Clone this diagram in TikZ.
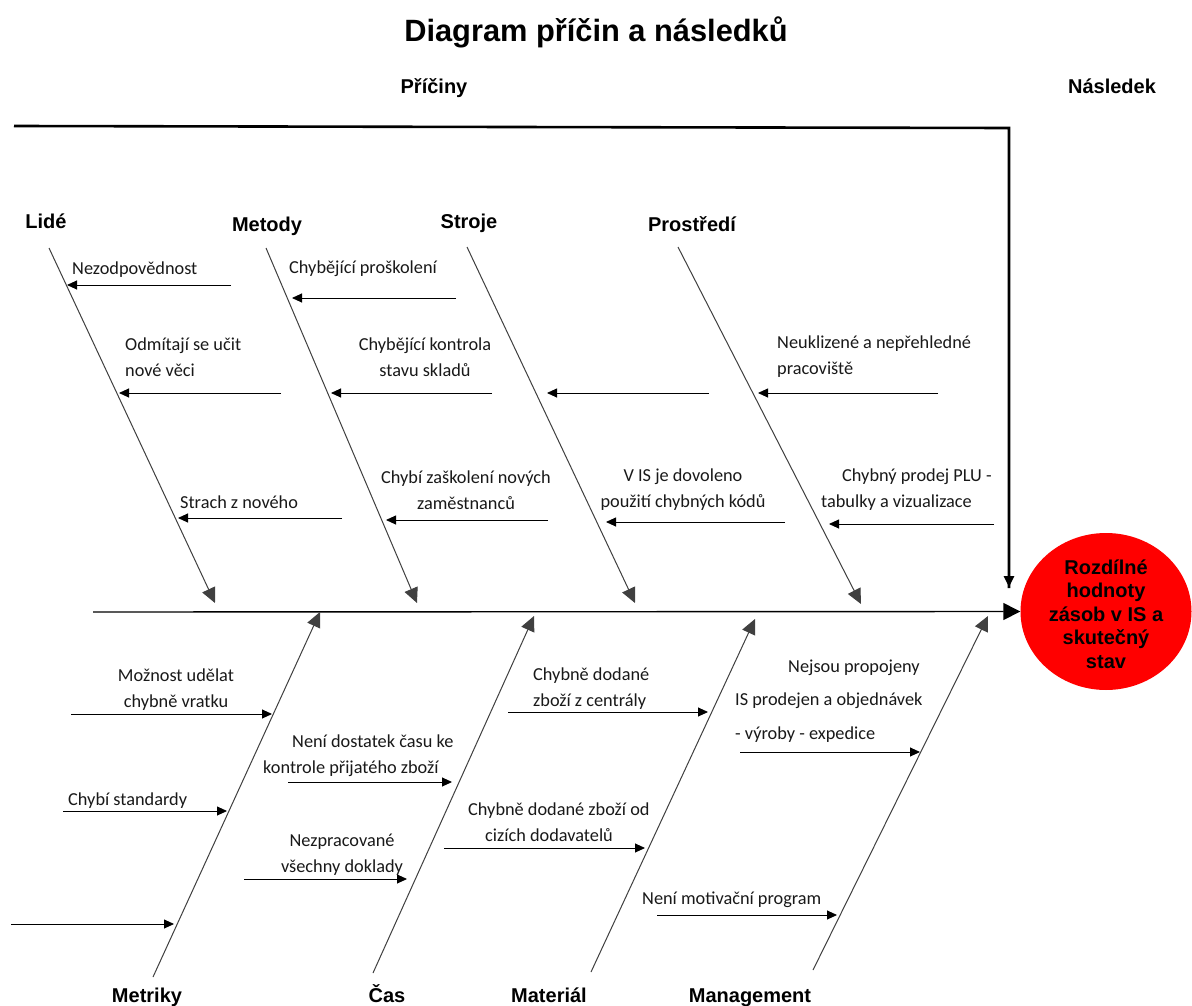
\documentclass[tikz,border=0pt]{standalone}
\usepackage{fontspec}
\setmainfont{Carlito}
\newfontfamily\headfont{Liberation Sans}
\usetikzlibrary{arrows.meta,shapes.geometric}

\tikzset{
  ribline/.style={draw=black!75, line width=1pt, -{Triangle[length=15pt,width=14pt]}},
  causearrow/.style={draw=black, line width=0.9pt, -{Triangle[length=10pt,width=9pt]}},
  lbl/.style={font=\fontsize{18.3}{26}\selectfont, inner sep=0pt, text=black!90},
  headlbl/.style={font=\headfont\bfseries\fontsize{20}{24}\selectfont, inner sep=0pt, anchor=base},
}

\begin{document}
\begin{tikzpicture}[x=1pt,y=-1pt]
\useasboundingbox (0,0) rectangle (1192,1006);
\fill[white] (0,0) rectangle (1192,1006);

% ---- titles ----
\node[font=\headfont\bfseries\fontsize{30.8}{34}\selectfont, inner sep=0pt, anchor=base] (title) at (596,42) {Diagram příčin a následků};
\node[headlbl] (causes) at (434,94) {Příčiny};
\node[headlbl] (result) at (1112,94) {Následek};

% ---- effect ----
\node[ellipse, fill=red, minimum width=171pt, minimum height=157pt, inner sep=0pt] (effect) at (1106,611.5) {};
\node[font=\headfont\bfseries\fontsize{20}{23.5}\selectfont, align=center, inner sep=0pt] (effecttext) at (1106,614) {Rozdílné\\hodnoty\\zásob v IS a\\skutečný\\stav};

% ---- frame line from the causes to the effect ----
\coordinate (frameA) at (14,126);
\coordinate (frameB) at (1009,128);
\coordinate (frameC) at (1009,587);
\draw[line width=2.6pt] (frameA) -- (frameB) -- ([yshift=-1pt]frameB |- frameC);
\draw[line width=2.6pt, -{Triangle[length=11pt,width=10pt]}] (frameB) -- (frameC);

% ---- spine ----
\coordinate (spineStart) at (93,612);
\draw[line width=1.4pt, -{Triangle[length=17pt,width=17pt]}] (spineStart) -- (effect.west);

% ---- category headings ----
\node[headlbl] (lide) at (46,229) {Lidé};
\node[headlbl] (metody) at (267,231) {Metody};
\node[headlbl] (stroje) at (469,229) {Stroje};
\node[headlbl] (prostredi) at (692,231) {Prostředí};
\node[headlbl] (metriky) at (147,1002) {Metriky};
\node[headlbl] (cas) at (387,1002) {Čas};
\node[headlbl] (material) at (549,1002) {Materiál};
\node[headlbl] (management) at (750,1002) {Management};

% ---- ribs ----
\coordinate (lideS) at (49,248);   \coordinate (lideE) at (215,603);
\coordinate (metS) at (266,248);   \coordinate (metE) at (417,603);
\coordinate (strS) at (467,247);   \coordinate (strE) at (635,603);
\coordinate (proS) at (678,247);   \coordinate (proE) at (861,604);
\coordinate (mtrS) at (153,977);   \coordinate (mtrE) at (320,612);
\coordinate (casS) at (373,973);   \coordinate (casE) at (534,616);
\coordinate (matS) at (591,972);   \coordinate (matE) at (755,619);
\coordinate (mgmS) at (813,970);   \coordinate (mgmE) at (988,616);
\foreach \s/\e in {lideS/lideE, metS/metE, strS/strE, proS/proE, mtrS/mtrE, casS/casE, matS/matE, mgmS/mgmE}
  \draw[ribline] (\s) -- (\e);

% ---- causes: Lidé ----
\node[lbl, anchor=west] (lA) at (72,270) {Nezodpovědnost};
\node[lbl, anchor=west, align=left] (lB) at (125,357) {Odmítají se učit\\nové věci};
\node[lbl, anchor=west] (lC) at (180,502) {Strach z nového};
\coordinate (lA1) at (231,285); \coordinate (lA2) at (67,285);
\coordinate (lB1) at (281,393); \coordinate (lB2) at (119,393);
\coordinate (lC1) at (342,518); \coordinate (lC2) at (178,518);

% ---- causes: Metody ----
\node[lbl, anchor=west] (mA) at (289,269) {Chybějící proškolení};
\node[lbl, align=center] (mB) at (425,357) {Chybějící kontrola\\stavu skladů};
\node[lbl, align=center] (mC) at (466,490) {Chybí zaškolení nových\\zaměstnanců};
\coordinate (mA1) at (456,298); \coordinate (mA2) at (292,298);
\coordinate (mB1) at (492,393); \coordinate (mB2) at (331,393);
\coordinate (mC1) at (548,520); \coordinate (mC2) at (386,520);

% ---- causes: Stroje ----
\node[lbl, align=center] (sB) at (683,490) {V IS je dovoleno\\použití chybných kódů};
\coordinate (sA1) at (709,393); \coordinate (sA2) at (547,393);
\coordinate (sB1) at (785,522); \coordinate (sB2) at (606,522);

% ---- causes: Prostředí ----
\node[lbl, anchor=west, align=left] (pA) at (777,357) {Neuklizené a nepřehledné\\pracoviště};
\node[lbl, anchor=west, align=left] (pB) at (821,490) {\hspace*{21pt}Chybný prodej PLU -\\tabulky a vizualizace};
\coordinate (pA1) at (938,393); \coordinate (pA2) at (758,393);
\coordinate (pB1) at (994,524); \coordinate (pB2) at (829,524);

% ---- causes: Metriky ----
\node[lbl, align=center] (meA) at (176,690) {Možnost udělat\\chybně vratku};
\node[lbl, anchor=west] (meB) at (68,801) {Chybí standardy};
\coordinate (meA1) at (71,714);  \coordinate (meA2) at (272,714);
\coordinate (meB1) at (63,811);  \coordinate (meB2) at (227,811);
\coordinate (meC1) at (11,924);  \coordinate (meC2) at (174,924);

% ---- causes: Čas ----
\node[lbl, anchor=west, align=left] (cA) at (263,756) {\hspace*{29pt}Není dostatek času ke\\kontrole přijatého zboží};
\node[lbl, align=center] (cB) at (342,855) {Nezpracované\\všechny doklady};
\coordinate (cA1) at (288,782); \coordinate (cA2) at (452,782);
\coordinate (cB1) at (244,879); \coordinate (cB2) at (407,879);

% ---- causes: Materiál ----
\node[lbl, anchor=west, align=left] (maA) at (533,689) {Chybně dodané\\zboží z centrály};
\node[lbl, anchor=west, align=left] (maB) at (468,822) {Chybně dodané zboží od\\\hspace*{17pt}cizích dodavatelů};
\coordinate (maA1) at (508,712); \coordinate (maA2) at (708,712);
\coordinate (maB1) at (444,848); \coordinate (maB2) at (645,848);

% ---- causes: Management ----
\node[lbl, anchor=west, align=left, font=\fontsize{18.3}{33.5}\selectfont] (mgA) at (735,701) {\hspace*{53pt}Nejsou propojeny\\IS prodejen a objednávek\\- výroby - expedice};
\node[lbl, anchor=west] (mgB) at (642,900) {Není motivační program};
\coordinate (mgA1) at (740,752); \coordinate (mgA2) at (920,752);
\coordinate (mgB1) at (657,915); \coordinate (mgB2) at (837,915);

% ---- cause arrows ----
\foreach \c in {lA,lB,lC,mA,mB,mC,sA,sB,pA,pB,meA,meB,meC,cA,cB,maA,maB,mgA,mgB}
  \draw[causearrow] (\c1) -- (\c2);

\end{tikzpicture}
\end{document}
